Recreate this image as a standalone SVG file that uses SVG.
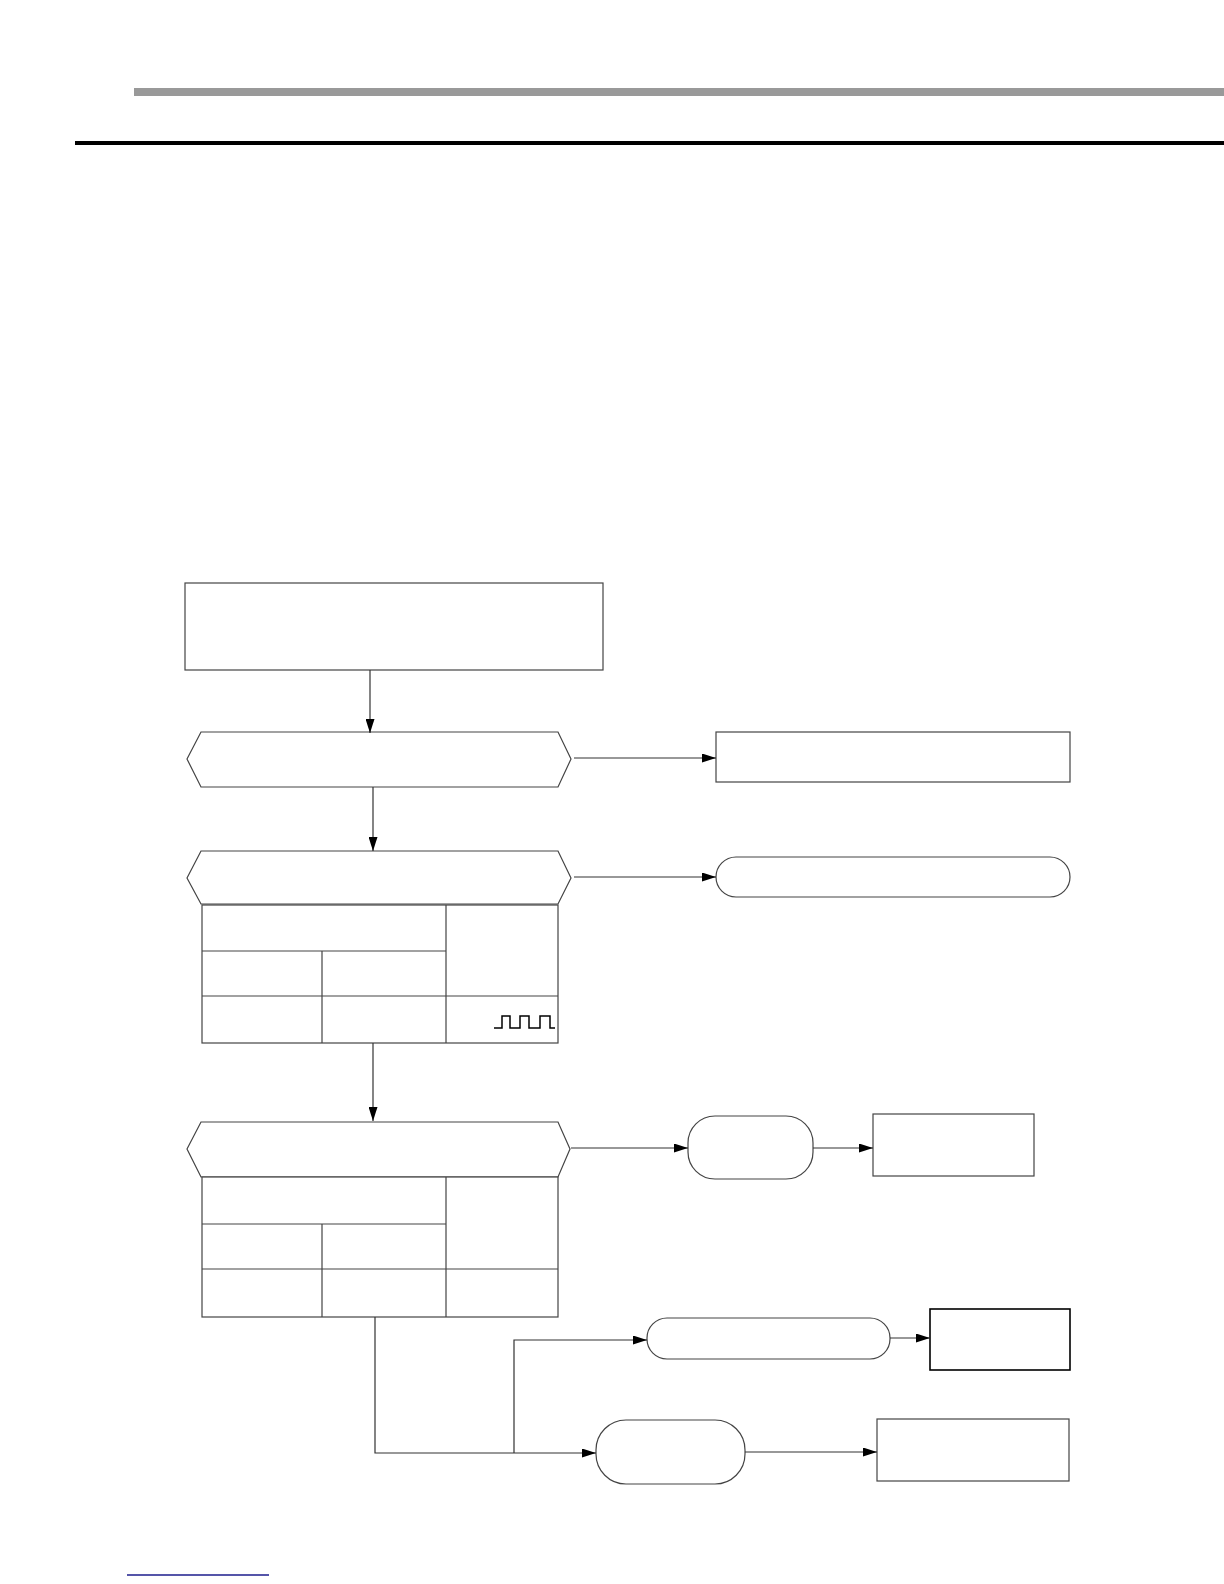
<svg xmlns="http://www.w3.org/2000/svg" width="1224" height="1584" viewBox="0 0 1224 1584">
<style>
.n{fill:#fff;stroke:#444;stroke-width:1.2}
.t{fill:none;stroke:#444;stroke-width:1.2}
.c{fill:none;stroke:#333;stroke-width:1.2}
</style>
<defs>
<marker id="ah" viewBox="0 0 14 9" refX="14" refY="4.5" markerWidth="14" markerHeight="9" markerUnits="userSpaceOnUse" orient="auto">
<path d="M0,0 L14,4.5 L0,9 Z" fill="#000"/>
</marker>
</defs>
<rect width="1224" height="1584" fill="#fff"/>
<g id="header">
<rect x="134" y="88" width="1090" height="8" fill="#999"/>
<rect x="75" y="141" width="1149" height="4" fill="#000"/>
</g>
<g id="start"><rect class="n" x="185" y="583" width="418" height="87"/></g>
<g id="decision1"><polygon class="n" points="187,759 201,732 558,732 571,759 558,787 201,787"/></g>
<g id="result1"><rect class="n" x="716" y="732" width="354" height="50"/></g>
<g id="decision2"><polygon class="n" points="187,878 201,851 558,851 571,878 558,904 201,904"/></g>
<g id="terminal1"><rect class="n" x="716" y="857" width="354" height="40" rx="20" ry="20"/></g>
<g id="table1">
<rect class="n" x="202" y="905" width="356" height="138"/>
<path class="t" d="M202,951 H446 M202,996 H558 M446,905 V1043 M322,951 V1043"/>
<path d="M494,1028 H502 V1016 H510 V1028 H520 V1016 H529 V1028 H540 V1016 H550 V1028 H555" fill="none" stroke="#000" stroke-width="1.5"/>
</g>
<g id="decision3"><polygon class="n" points="187,1149 201,1122 558,1122 570,1149 558,1177 201,1177"/></g>
<g id="table2">
<rect class="n" x="202" y="1177" width="356" height="140"/>
<path class="t" d="M202,1224 H446 M202,1269 H558 M446,1177 V1317 M322,1224 V1317"/>
</g>
<g id="terminal2"><rect class="n" x="688" y="1116" width="125" height="63" rx="27" ry="27"/></g>
<g id="result2"><rect class="n" x="873" y="1114" width="161" height="62"/></g>
<g id="terminal3"><rect class="n" x="647" y="1318" width="243" height="41" rx="20" ry="20"/></g>
<g id="result3"><rect x="930" y="1309" width="140" height="61" fill="#fff" stroke="#000" stroke-width="1.6"/></g>
<g id="terminal4"><rect class="n" x="596" y="1420" width="149" height="64" rx="30" ry="30"/></g>
<g id="result4"><rect class="n" x="877" y="1419" width="192" height="62" stroke="#666"/></g>
<g id="connectors">
<path class="c" d="M370,670 V733" marker-end="url(#ah)"/>
<path class="c" d="M574,758 H716" marker-end="url(#ah)"/>
<path class="c" d="M373,787 V851" marker-end="url(#ah)"/>
<path class="c" d="M574,877 H716" marker-end="url(#ah)"/>
<path class="c" d="M373,1043 V1121" marker-end="url(#ah)"/>
<path class="c" d="M571,1148 H688" marker-end="url(#ah)"/>
<path class="c" d="M813,1148 H873" marker-end="url(#ah)"/>
<path class="c" d="M375,1317 V1453 H596" marker-end="url(#ah)"/>
<path class="c" d="M514,1453 V1340 H647" marker-end="url(#ah)"/>
<path class="c" d="M890,1338 H930" marker-end="url(#ah)"/>
<path class="c" d="M745,1452 H877" marker-end="url(#ah)"/>
</g>
<g id="footer"><line x1="127" y1="1575" x2="269" y2="1575" stroke="#1c1c8c" stroke-width="1.5"/></g>
</svg>
